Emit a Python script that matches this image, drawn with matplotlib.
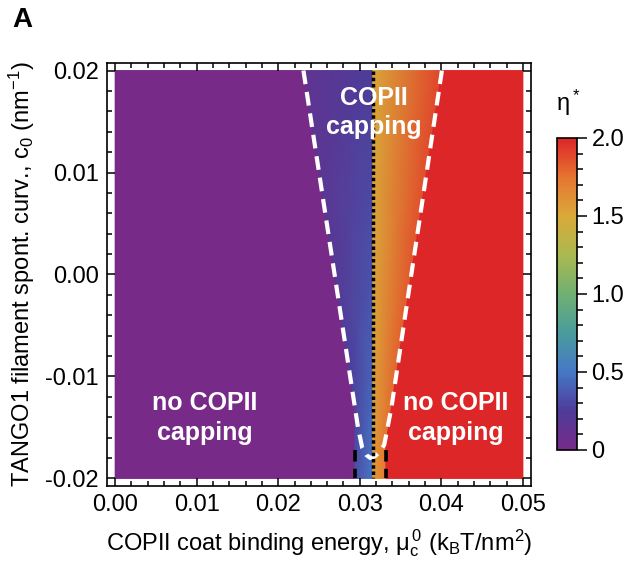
import numpy as np
import matplotlib
matplotlib.use("Agg")
import matplotlib.pyplot as plt
from matplotlib.colors import LinearSegmentedColormap
from matplotlib.ticker import MultipleLocator

plt.rcParams['font.family'] = ['Liberation Sans', 'DejaVu Sans']
plt.rcParams['mathtext.fontset'] = 'custom'
plt.rcParams['mathtext.rm'] = 'Liberation Sans'
plt.rcParams['mathtext.it'] = 'Liberation Sans:italic'
plt.rcParams['mathtext.default'] = 'regular'

# colour scale (eta* from 0 to 2), rainbow-like
cmap_colors = ['#782a88', '#4d3c99', '#4678c6', '#4a9c9c', '#70b072',
               '#aab950', '#d9aa3a', '#e67530', '#dc2628']

# rows of spontaneous curvature c0 (nm^-1)
c0_rows = [0.02, 0.01, 0.0, -0.01, -0.013, -0.0166, -0.02]
# edges of the coloured band (coat binding energy)
mu_left = [0.02311, 0.02500, 0.02691, 0.02882, 0.02941, 0.02941, 0.02941]
mu_right = [0.04007, 0.03820, 0.03632, 0.03445, 0.03389, 0.03321, 0.03321]
mu_dot = 0.0316
# eta* on both sides of the band edges and of the dotted line
eta_left_in = [0.14, 0.17, 0.20, 0.26, 0.29, 0.31, 0.33]
eta_dot_lo = [0.25, 0.30, 0.35, 0.42, 0.45, 0.48, 0.50]
eta_dot_hi = [1.52, 1.52, 1.53, 1.54, 1.55, 1.56, 1.57]
eta_right_in = [1.90, 1.88, 1.85, 1.80, 1.78, 1.75, 1.72]
eta_min, eta_max = 0.0, 2.0
mu_min, mu_max = 0.0, 0.05

# white dashed boundary (U shaped, closes near the bottom)
white_mu = [0.02309, 0.02500, 0.02691, 0.02882, 0.02978, 0.03030, 0.03080,
            0.03130, 0.03190, 0.03250, 0.03300, 0.03389, 0.03445, 0.03632,
            0.03820, 0.04007]
white_c0 = [0.02, 0.01, 0.0, -0.01, -0.015, -0.0170, -0.0177, -0.0180,
            -0.0178, -0.0173, -0.0167, -0.013, -0.01, 0.0, 0.01, 0.02]
# black dashed segments at the bottom
black_mu = [0.0294, 0.0332]
black_c0 = [-0.0172, -0.02]

cmap = LinearSegmentedColormap.from_list('rainbow_m', cmap_colors)

fig = plt.figure(figsize=(6.24, 5.63), dpi=100)
ax = fig.add_axes([0.1715, 0.1368, 0.6795, 0.7513])

d = 1e-6
X = []
Y = []
C = []
for i in range(len(c0_rows)):
    X.append([mu_min, mu_left[i], mu_left[i] + d, mu_dot - d, mu_dot + d,
              mu_right[i] - d, mu_right[i], mu_max])
    Y.append([c0_rows[i]] * 8)
    C.append([eta_min, eta_min, eta_left_in[i], eta_dot_lo[i], eta_dot_hi[i],
              eta_right_in[i], eta_max, eta_max])
X = np.array(X)
Y = np.array(Y)
C = np.array(C)
mesh = ax.pcolormesh(X, Y, C, shading='gouraud', cmap=cmap, vmin=eta_min,
                     vmax=eta_max, rasterized=True)

ax.plot(white_mu, white_c0, color='white', lw=3, dashes=(3.3, 1.9),
        solid_capstyle='butt', dash_capstyle='butt')
ax.plot([mu_dot, mu_dot], [c0_rows[0], c0_rows[-1]], color='black', lw=2.5,
        dashes=(1, 0.8), dash_capstyle='butt')
for m in black_mu:
    ax.plot([m, m], black_c0, color='black', lw=2.6, dashes=(3.2, 2.0),
            dash_capstyle='butt')

txt = dict(color='white', fontsize=18, fontweight='bold', ha='center',
           va='center', linespacing=1.3)
ax.text(0.03174, 0.01590, 'COPII\ncapping', **txt)
ax.text(0.0110, -0.0141, 'no COPII\ncapping', **txt)
ax.text(0.0418, -0.0141, 'no COPII\ncapping', **txt)

ax.set_xlim(-0.001, 0.051)
ax.set_ylim(-0.02074, 0.02074)
ax.set_xticks([0.0, 0.01, 0.02, 0.03, 0.04, 0.05])
ax.set_xticklabels(['0.00', '0.01', '0.02', '0.03', '0.04', '0.05'])
ax.set_yticks([-0.02, -0.01, 0.0, 0.01, 0.02])
ax.set_yticklabels(['-0.02', '-0.01', '0.00', '0.01', '0.02'])
ax.xaxis.set_minor_locator(MultipleLocator(0.002))
ax.yaxis.set_minor_locator(MultipleLocator(0.002))
ax.tick_params(which='both', direction='in', top=True, right=True,
               labelsize=17, width=1.1, pad=6)
ax.tick_params(which='major', length=6)
ax.tick_params(which='minor', length=3.5)
for s in ax.spines.values():
    s.set_linewidth(1.2)

ax.set_xlabel('COPII coat binding energy, μ$_c^{\\,0}$ (k$_B$T/nm$^2$)',
              fontsize=17, labelpad=8)
ax.set_ylabel('TANGO1 filament spont. curv., c$_0$ (nm$^{-1}$)',
              fontsize=17, labelpad=6)

cax = fig.add_axes([557 / 624, 1 - 450 / 563, 20 / 624, 312 / 563])
cb = fig.colorbar(mesh, cax=cax)
cb.set_ticks([0, 0.5, 1.0, 1.5, 2.0])
cb.set_ticklabels(['0', '0.5', '1.0', '1.5', '2.0'])
cb.ax.yaxis.set_minor_locator(MultipleLocator(0.1))
cb.ax.tick_params(which='both', direction='out', labelsize=17, width=1.1)
cb.ax.tick_params(which='major', length=7)
cb.ax.tick_params(which='minor', length=4)
cb.outline.set_linewidth(1.2)
fig.text(568 / 624, 1 - 103 / 563, 'η$^*$', fontsize=17, ha='center',
         va='center')

fig.text(12 / 624, 1 - 20 / 563, 'A', fontsize=20, fontweight='bold',
         ha='left', va='center')

fig.savefig('out.png', dpi=100)
